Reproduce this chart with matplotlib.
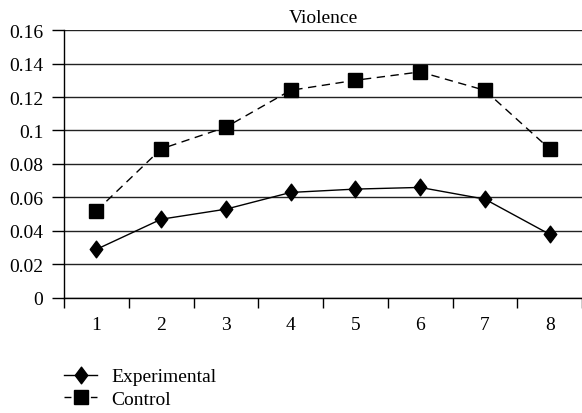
import numpy as np
import matplotlib.pyplot as plt
from matplotlib.path import Path

# data
groups = [1, 2, 3, 4, 5, 6, 7, 8]
experimental = [0.029, 0.047, 0.053, 0.063, 0.065, 0.066, 0.059, 0.038]
control = [0.052, 0.089, 0.102, 0.124, 0.130, 0.135, 0.124, 0.089]
y_ticks = [0, 0.02, 0.04, 0.06, 0.08, 0.1, 0.12, 0.14, 0.16]
y_labels = ["0", "0.02", "0.04", "0.06", "0.08", "0.1", "0.12", "0.14", "0.16"]

plt.rcParams['font.family'] = ['Liberation Serif', 'DejaVu Serif']
FS = 14

# slightly narrow diamond marker
diamond = Path([(0, 1), (0.75, 0), (0, -1), (-0.75, 0), (0, 1)],
               [Path.MOVETO, Path.LINETO, Path.LINETO, Path.LINETO, Path.CLOSEPOLY])

fig = plt.figure(figsize=(5.82, 4.14), dpi=100)
ax = fig.add_axes([0.110, 0.278, 0.890, 0.647])

x = np.arange(len(groups))
ax.plot(x, experimental, color='black', lw=1, marker=diamond, ms=12,
        label='Experimental')
ax.plot(x, control, color='black', lw=1, ls=(0, (6, 4)), marker='s', ms=10,
        label='Control')

ax.set_xlim(-0.5, len(groups) - 0.5)
ax.set_ylim(0, 0.16)
ax.set_yticks(y_ticks)
ax.set_yticklabels(y_labels, fontsize=FS)
ax.yaxis.grid(True, color='#222222', lw=1)
ax.set_axisbelow(True)

# category labels centred, tick marks between categories
ax.set_xticks(np.arange(len(groups) + 1) - 0.5)
ax.set_xticklabels([])
ax.set_xticks(x, minor=True)
ax.set_xticklabels([str(g) for g in groups], minor=True, fontsize=FS)
ax.tick_params(axis='x', which='major', length=7, width=1, direction='out')
ax.tick_params(axis='x', which='minor', length=0, pad=13)
ax.tick_params(axis='y', length=9, width=1, direction='out', pad=6)

for s in ['top', 'right']:
    ax.spines[s].set_visible(False)
ax.spines['left'].set_linewidth(1)
ax.spines['bottom'].set_linewidth(1)

ax.set_title('Violence', fontsize=FS, pad=6)

leg = fig.legend(loc='upper left', bbox_to_anchor=(0.097, 0.128), frameon=False,
                 fontsize=FS, handlelength=1.7, handletextpad=0.7,
                 labelspacing=0.25, borderaxespad=0)
# short dashes either side of the square in the legend key
leg.get_lines()[1].set_linestyle((0, (5, 14)))

fig.savefig('out.png', dpi=100)
